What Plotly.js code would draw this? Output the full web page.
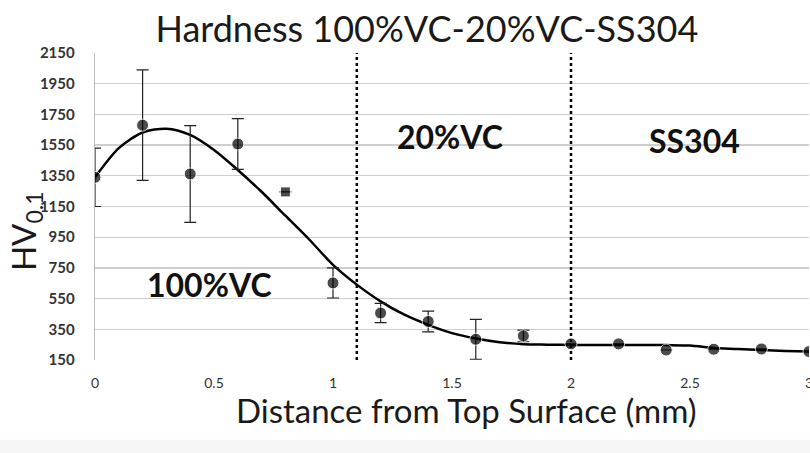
<!DOCTYPE html>
<html>
<head>
<meta charset="utf-8">
<script src="https://cdn.plot.ly/plotly-3.0.1.min.js"></script>
<style>html,body{margin:0;padding:0;background:#fff;}#chart{width:810px;height:453px;}</style>
</head>
<body>
<div id="chart"></div>
<script>
// Measured data points
const distance = [0, 0.2, 0.4, 0.6, 0.8, 1.0, 1.2, 1.4, 1.6, 1.8, 2.0, 2.2, 2.4, 2.6, 2.8, 3.0];
const hardness = [1340, 1680, 1362, 1557, 1245, 652, 456, 401, 285, 307, 255, 255, 215, 220, 222, 205];
const hardnessErr = [190, 360, 315, 165, 0, 98, 63, 68, 130, 38, 0, 0, 0, 0, 0, 0];

// Trend line
const trendX = [0, 0.1, 0.2, 0.3, 0.4, 0.5, 0.6, 0.7, 0.8, 0.9, 1.0, 1.1, 1.2, 1.3, 1.4, 1.5, 1.6, 1.7, 1.8, 1.9, 2.0, 2.2, 2.4, 2.5, 2.6, 2.7, 2.8, 2.9, 3.0];
const trendY = [1340, 1530, 1632, 1657, 1616, 1518, 1388, 1246, 1090, 935, 770, 641, 532, 445, 379, 325, 290, 266, 253, 250, 248, 248, 247, 244, 228, 222, 215, 209, 205];

// Region boundaries and labels
const boundaries = [1.1, 2.0];
const regionLabels = ['100%VC', '20%VC', 'SS304'];
const regionLabelX = [0.48, 1.49, 2.52];
const regionLabelY = [640, 1603, 1583];

const yTicks = [150, 350, 550, 750, 950, 1150, 1350, 1550, 1750, 1950, 2150];
const xTicks = [0, 0.5, 1, 1.5, 2, 2.5, 3];
const xTickText = ['0', '0.5', '1', '1.5', '2', '2.5', '3'];

const FONT = 'Lato, "Open Sans", sans-serif';

const traces = [
  {
    x: trendX, y: trendY, type: 'scatter', mode: 'lines',
    line: {color: '#000', width: 2.5, shape: 'spline', smoothing: 0.8},
    hoverinfo: 'skip', showlegend: false
  },
  {
    x: distance, y: hardness, type: 'scatter', mode: 'markers',
    marker: {color: '#000', size: distance.map(d => d === 0.8 ? 10 : 12),
      symbol: distance.map(d => d === 0.8 ? 'square' : 'circle')},
    error_y: {type: 'data', array: hardnessErr, visible: true, color: '#222', thickness: 1.2, width: 6},
    showlegend: false, cliponaxis: true
  }
];

const shapes = boundaries.map(b => ({
  type: 'line', xref: 'x', yref: 'y', x0: b, x1: b, y0: 150, y1: 2150,
  line: {color: '#000', width: 2.5, dash: 'dot'}
}));
// faint grey band along the bottom of the picture
shapes.push({type: 'rect', xref: 'paper', yref: 'paper', x0: -0.14, x1: 1.01, y0: -0.31, y1: -0.26,
  fillcolor: 'rgba(225,225,225,0.35)', line: {width: 0}, layer: 'below'});

const annotations = regionLabels.map((t, i) => ({
  x: regionLabelX[i], y: regionLabelY[i], xref: 'x', yref: 'y', text: '<b>' + t + '</b>',
  showarrow: false, font: {family: FONT, size: 32, color: '#111'}
}));
annotations.push({
  xref: 'paper', yref: 'paper', x: 0.52, y: -0.162, yanchor: 'middle', xanchor: 'center',
  text: 'Distance from Top Surface (mm)', showarrow: false,
  font: {family: FONT, size: 33, color: '#1a1a1a'}
});
annotations.push({
  xref: 'paper', yref: 'paper', x: -0.098, y: 0.42, yanchor: 'middle', xanchor: 'center',
  text: 'HV<sub>0.1</sub>', showarrow: false, textangle: -90,
  font: {family: FONT, size: 33, color: '#1a1a1a'}
});

const layout = {
  width: 810, height: 453,
  margin: {l: 95, r: 1, t: 53, b: 93},
  paper_bgcolor: '#fff', plot_bgcolor: '#fff',
  title: {
    text: 'Hardness 100%VC-20%VC-SS304',
    font: {family: FONT, size: 36, color: '#1a1a1a'},
    x: 0.527, xanchor: 'center', y: 0.935, yanchor: 'middle'
  },
  xaxis: {
    range: [0, 3], tickvals: xTicks, ticktext: xTickText,
    showgrid: false, zeroline: false, showline: false,
    ticks: 'outside', ticklen: 10, tickcolor: 'rgba(0,0,0,0)',
    ticklabeloverflow: 'allow',
    tickfont: {family: FONT, size: 14, color: '#333'}
  },
  yaxis: {
    range: [150, 2150], tickvals: yTicks,
    showgrid: true, gridcolor: '#cfcfcf', gridwidth: 1.3,
    zeroline: false, showline: true, linecolor: '#bdbdbd', linewidth: 1.3,
    ticks: 'outside', ticklen: 16, tickcolor: 'rgba(0,0,0,0)',
    tickfont: {family: FONT, size: 15, color: '#333', weight: 'bold'}
  },
  shapes: shapes,
  annotations: annotations
};

Plotly.newPlot('chart', traces, layout, {displayModeBar: false, staticPlot: true});
</script>
</body>
</html>
